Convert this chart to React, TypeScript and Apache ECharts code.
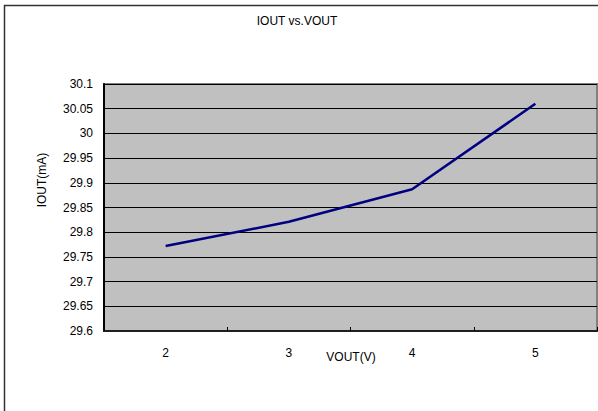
import React, { useEffect, useRef } from "react";
import * as echarts from "echarts";

const categories = ["2", "3", "4", "5"];
const iout = [29.772, 29.821, 29.887, 30.06];
const yMin = 29.6;
const yMax = 30.1;
const yStep = 0.05;

export default function App() {
  const ref = useRef<HTMLDivElement>(null);
  useEffect(() => {
    if (!ref.current) return;
    const chart = echarts.init(ref.current, undefined, { renderer: "svg" });
    const font = "Liberation Sans, Arial, sans-serif";
    chart.setOption({
      animation: false,
      backgroundColor: "#ffffff",
      title: {
        text: "IOUT vs.VOUT",
        left: 292,
        top: 10,
        textAlign: "center",
        textStyle: { fontFamily: font, fontSize: 12, fontWeight: "normal", color: "#000" },
      },
      grid: {
        left: 104,
        top: 84,
        right: 1,
        bottom: 80,
        show: true,
        backgroundColor: "#C0C0C0",
        borderColor: "#808080",
        borderWidth: 2,
      },
      xAxis: {
        type: "category",
        data: categories,
        boundaryGap: true,
        axisLine: { lineStyle: { color: "#202020", width: 2 } },
        axisTick: { show: true, inside: true, length: 4, lineStyle: { color: "#000" } },
        axisLabel: { color: "#000", fontFamily: font, fontSize: 12, margin: 16 },
        splitLine: { show: false },
      },
      yAxis: {
        type: "value",
        min: yMin,
        max: yMax,
        interval: yStep,
        axisLine: { show: true, lineStyle: { color: "#000", width: 2 } },
        axisTick: { show: false },
        axisLabel: {
          color: "#000",
          fontFamily: font,
          fontSize: 12,
          margin: 11,
          formatter: (v: number) => String(parseFloat(v.toFixed(2))),
        },
        splitLine: { show: true, lineStyle: { color: "#000", width: 1 } },
      },
      graphic: [
        {
          type: "rect",
          shape: { x: 4.5, y: 5.5, width: 700, height: 600 },
          style: { fill: "none", stroke: "#333", lineWidth: 1.5 },
          silent: true,
          z: 100,
        },
        {
          type: "text",
          x: 351,
          y: 357,
          style: {
            text: "VOUT(V)",
            fontFamily: font,
            fontSize: 12,
            fill: "#000",
            align: "center",
            verticalAlign: "middle",
          },
        },
        {
          type: "text",
          x: 42,
          y: 180,
          rotation: Math.PI / 2,
          style: {
            text: "IOUT(mA)",
            fontFamily: font,
            fontSize: 12,
            fill: "#000",
            align: "center",
            verticalAlign: "middle",
          },
        },
      ],
      series: [
        {
          type: "line",
          data: iout,
          symbol: "none",
          lineStyle: { color: "#000080", width: 2.5 },
        },
      ],
    });
    return () => chart.dispose();
  }, []);
  return (
    <div
      ref={ref}
      style={{ position: "fixed", left: 0, top: 0, width: 598, height: 411 }}
    />
  );
}
